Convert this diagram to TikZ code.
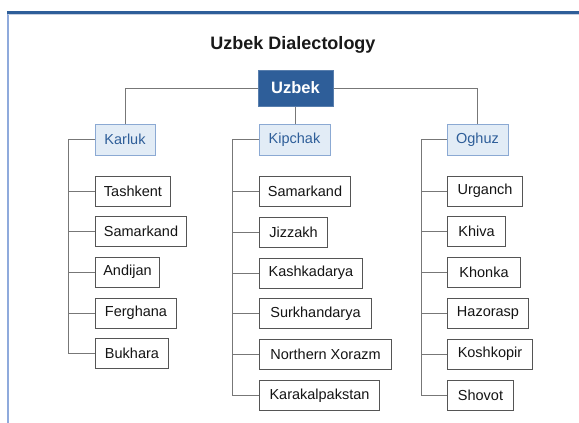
\documentclass[tikz,border=0pt]{standalone}
\usepackage{fontspec}
\setmainfont{Liberation Sans}
\definecolor{darkblue}{HTML}{2E5E99}
\definecolor{lightfill}{HTML}{E2ECF6}
\definecolor{lightborder}{HTML}{8BA9D3}
\definecolor{framelight}{HTML}{8FAADC}
\definecolor{conngray}{HTML}{777777}
\definecolor{leafborder}{HTML}{555555}
\begin{document}
\begin{tikzpicture}[x=1pt,y=-1pt,
  rootbox/.style={draw=darkblue!80!white,fill=darkblue,text=white,line width=1pt,
    minimum width=75pt,minimum height=36pt,inner sep=0pt,
    font=\bfseries\fontsize{16.5}{18}\selectfont},
  midbox/.style={draw=lightborder,fill=lightfill,text=darkblue,line width=1pt,
    minimum height=31pt,inner sep=0pt,font=\fontsize{14.5}{16}\selectfont},
  leafbox/.style={draw=leafborder,fill=white,text=black!92,line width=1pt,
    minimum height=30pt,inner sep=0pt,anchor=west,font=\fontsize{14.5}{16}\selectfont},
  conn/.style={draw=conngray,line width=1pt}]
\useasboundingbox (0,0) rectangle (579,423);
% frame
\fill[white] (0,0) rectangle (579,423);
\draw[framelight,line width=1.6pt] (8,11) -- (8,423);
\draw[black!20!framelight!40!white,line width=1pt] (8,14.6) -- (579,14.6);
\draw[darkblue,line width=3pt] (7,12.5) -- (579,12.5);
% title
\node[font=\bfseries\fontsize{18}{20}\selectfont,text=black!90] (title) at (293,45) {Uzbek Dialectology};
% root and groups
\node[rootbox] (uzbek) at (295.5,88) {Uzbek};
\node[midbox,minimum width=60pt] (karluk) at (125,139.5) {Karluk};
\node[midbox,minimum width=71pt] (kipchak) at (294.5,139.5) {Kipchak};
\node[midbox,minimum width=61pt] (oghuz) at (477.5,139.5) {Oghuz};
% leaves Karluk
\node[leafbox,minimum width=75pt] (k1) at (95,191) {Tashkent};
\node[leafbox,minimum width=91pt] (k2) at (95,231) {Samarkand};
\node[leafbox,minimum width=64pt] (k3) at (95,272) {Andijan};
\node[leafbox,minimum width=81pt] (k4) at (95,313) {Ferghana};
\node[leafbox,minimum width=73pt] (k5) at (95,353.5) {Bukhara};
% leaves Kipchak
\node[leafbox,minimum width=91pt] (p1) at (259,191) {Samarkand};
\node[leafbox,minimum width=68pt] (p2) at (259,232) {Jizzakh};
\node[leafbox,minimum width=103pt] (p3) at (259,273) {Kashkadarya};
\node[leafbox,minimum width=112pt] (p4) at (259,313.5) {Surkhandarya};
\node[leafbox,minimum width=132pt] (p5) at (259,354) {Northern Xorazm};
\node[leafbox,minimum width=120pt] (p6) at (259,395.5) {Karakalpakstan};
% leaves Oghuz
\node[leafbox,minimum width=75pt] (o1) at (447,191) {Urganch};
\node[leafbox,minimum width=58pt] (o2) at (447,231.5) {Khiva};
\node[leafbox,minimum width=73pt] (o3) at (447,272.5) {Khonka};
\node[leafbox,minimum width=81pt] (o4) at (447,313) {Hazorasp};
\node[leafbox,minimum width=85pt] (o5) at (447,354) {Koshkopir};
\node[leafbox,minimum width=66pt] (o6) at (447,395) {Shovot};
% connectors from root
\draw[conn] (uzbek.west) -| (karluk.north);
\draw[conn] (uzbek.east) -| (oghuz.north);
\draw[conn] (uzbek.south) -- (uzbek.south |- kipchak.north);
% trunks
\coordinate (kt) at ([xshift=-26pt]karluk.west);
\coordinate (pt) at ([xshift=-26pt]kipchak.west);
\coordinate (ot) at ([xshift=-25pt]oghuz.west);
\draw[conn] (karluk.west) -- (kt) |- (k5.west);
\draw[conn] (kipchak.west) -- (pt) |- (p6.west);
\draw[conn] (oghuz.west) -- (ot) |- (o6.west);
\foreach \n in {k1,k2,k3,k4} \draw[conn] (\n.west) -- (\n.west -| kt);
\foreach \n in {p1,p2,p3,p4,p5} \draw[conn] (\n.west) -- (\n.west -| pt);
\foreach \n in {o1,o2,o3,o4,o5} \draw[conn] (\n.west) -- (\n.west -| ot);
\end{tikzpicture}
\end{document}
